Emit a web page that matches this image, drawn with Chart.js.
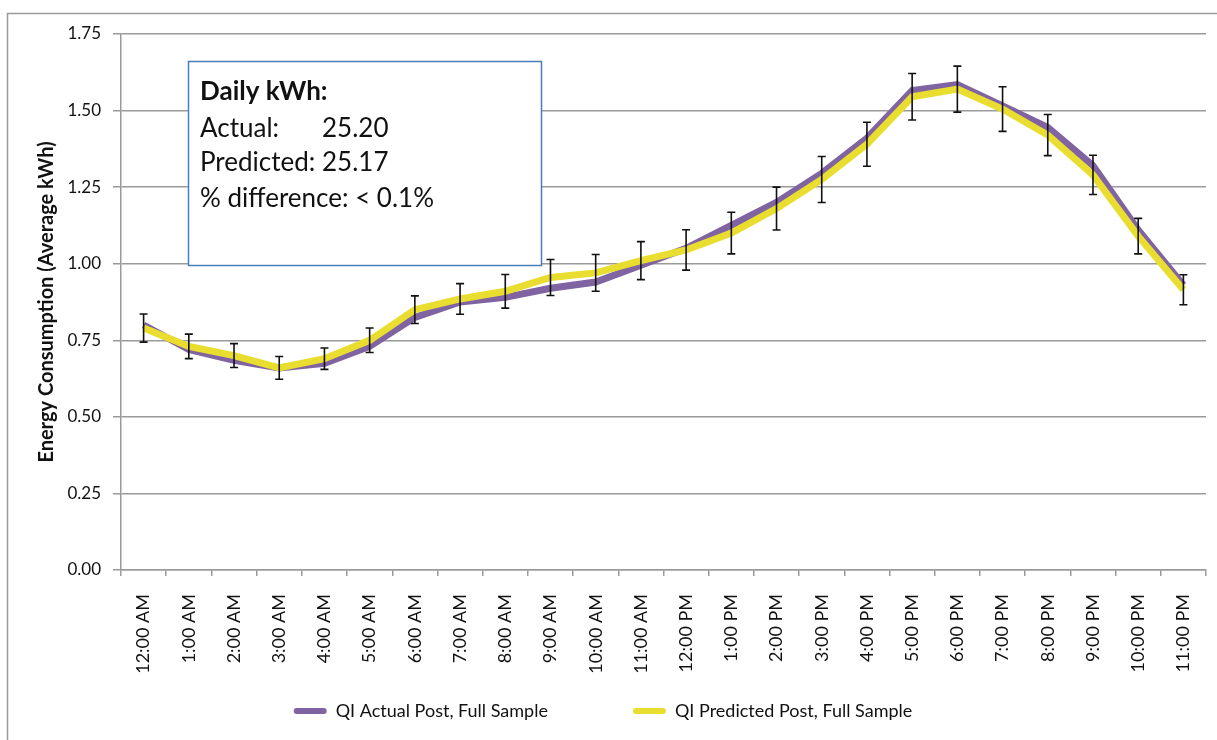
<!DOCTYPE html>
<html>
<head>
<meta charset="utf-8">
<script src="https://cdn.jsdelivr.net/npm/chart.js@4.4.1/dist/chart.umd.min.js"></script>
<style>
  html, body { margin: 0; padding: 0; background: #ffffff; }
  canvas { display: block; }
</style>
</head>
<body>
<canvas id="chart" width="1217" height="740"></canvas>
<script>
// Hour-of-day categories
const hours = [
  '12:00 AM', '1:00 AM', '2:00 AM', '3:00 AM', '4:00 AM', '5:00 AM',
  '6:00 AM', '7:00 AM', '8:00 AM', '9:00 AM', '10:00 AM', '11:00 AM',
  '12:00 PM', '1:00 PM', '2:00 PM', '3:00 PM', '4:00 PM', '5:00 PM',
  '6:00 PM', '7:00 PM', '8:00 PM', '9:00 PM', '10:00 PM', '11:00 PM'
];

// Average hourly kWh, actual post period
const actualKWh = [
  0.80, 0.72, 0.685, 0.66, 0.675, 0.73, 0.825, 0.875, 0.89, 0.92, 0.94, 0.995,
  1.05, 1.125, 1.20, 1.295, 1.41, 1.565, 1.585, 1.515, 1.445, 1.32, 1.11, 0.93
];

// Average hourly kWh, predicted post period
const predictedKWh = [
  0.79, 0.73, 0.70, 0.66, 0.69, 0.75, 0.85, 0.885, 0.91, 0.955, 0.97, 1.01,
  1.045, 1.10, 1.18, 1.275, 1.39, 1.545, 1.57, 1.505, 1.42, 1.29, 1.09, 0.915
];

// Half-width of the error bars on the predicted series
const predictedErr = [
  0.046, 0.040, 0.039, 0.037, 0.035, 0.040, 0.045, 0.050, 0.055, 0.059, 0.060, 0.062,
  0.066, 0.068, 0.070, 0.075, 0.072, 0.076, 0.075, 0.073, 0.067, 0.064, 0.058, 0.049
];

const seriesNames = ['QI Actual Post, Full Sample', 'QI Predicted Post, Full Sample'];

// Daily totals shown in the summary box
const dailyActual = 25.20;
const dailyPredicted = 25.17;
const dailyDiffText = '< 0.1%';

const FONT = 'Lato, "Open Sans", "DejaVu Sans", sans-serif';
const GRID = '#9a9a9a';
const PURPLE = '#8064a2';
const YELLOW = '#e9dd2f';

Chart.defaults.font.family = FONT;
Chart.defaults.color = '#1a1a1a';

// Outer frame of the chart
const framePlugin = {
  id: 'frame',
  beforeDraw(chart) {
    const ctx = chart.ctx;
    ctx.save();
    ctx.fillStyle = '#ffffff';
    ctx.fillRect(0, 0, chart.width, chart.height);
    ctx.strokeStyle = GRID;
    ctx.lineWidth = 1.5;
    ctx.beginPath();
    ctx.moveTo(7.5, chart.height);
    ctx.lineTo(7.5, 13.5);
    ctx.lineTo(chart.width, 13.5);
    ctx.stroke();
    ctx.restore();
  }
};

// Error bars on the predicted series
const errorBarPlugin = {
  id: 'errorBars',
  afterDatasetsDraw(chart) {
    const ctx = chart.ctx;
    const xs = chart.scales.x;
    const ys = chart.scales.y;
    ctx.save();
    ctx.strokeStyle = '#111111';
    ctx.lineWidth = 1.6;
    predictedKWh.forEach((v, i) => {
      const x = xs.getPixelForValue(i);
      const top = ys.getPixelForValue(v + predictedErr[i]);
      const bot = ys.getPixelForValue(v - predictedErr[i]);
      ctx.beginPath();
      ctx.moveTo(x, top); ctx.lineTo(x, bot);
      ctx.moveTo(x - 4, top); ctx.lineTo(x + 4, top);
      ctx.moveTo(x - 4, bot); ctx.lineTo(x + 4, bot);
      ctx.stroke();
    });
    ctx.restore();
  }
};

// Summary text box with the daily totals
const summaryPlugin = {
  id: 'summary',
  afterDraw(chart) {
    const ctx = chart.ctx;
    const bx = 188, by = 61, bw = 353, bh = 204;
    ctx.save();
    ctx.fillStyle = '#ffffff';
    ctx.fillRect(bx, by, bw, bh);
    ctx.strokeStyle = '#4a7ebb';
    ctx.lineWidth = 1.5;
    ctx.strokeRect(bx + 0.5, by + 0.5, bw, bh);
    ctx.fillStyle = '#111111';
    ctx.textBaseline = 'alphabetic';
    ctx.textAlign = 'left';
    ctx.font = 'bold 26px ' + FONT;
    ctx.fillText('Daily kWh:', 200, 100);
    ctx.font = '26px ' + FONT;
    ctx.fillText('Actual:', 200, 136.5);
    ctx.fillText(dailyActual.toFixed(2), 322, 136.5);
    ctx.fillText('Predicted:', 200, 171);
    ctx.fillText(dailyPredicted.toFixed(2), 322, 171);
    ctx.fillText('% difference: ' + dailyDiffText, 200, 206.5);
    ctx.restore();
  }
};

const PLOT_BOTTOM = 570;

new Chart(document.getElementById('chart'), {
  type: 'line',
  data: {
    labels: hours,
    datasets: [
      {
        label: seriesNames[0],
        data: actualKWh,
        borderColor: PURPLE,
        backgroundColor: PURPLE,
        borderWidth: 7,
        pointRadius: 0,
        tension: 0,
        order: 1
      },
      {
        label: seriesNames[1],
        data: predictedKWh,
        borderColor: YELLOW,
        backgroundColor: YELLOW,
        borderWidth: 7,
        pointRadius: 0,
        tension: 0,
        order: 0
      }
    ]
  },
  options: {
    responsive: false,
    animation: false,
    events: [],
    layout: { padding: { top: 34, right: 11, bottom: 10, left: 0 } },
    plugins: {
      tooltip: { enabled: false },
      legend: {
        position: 'bottom',
        labels: {
          font: { size: 18 },
          color: '#111111',
          boxWidth: 33,
          boxHeight: 6,
          padding: 85,
          sort: (a, b) => a.datasetIndex - b.datasetIndex,
          generateLabels(chart) {
            const items = Chart.defaults.plugins.legend.labels.generateLabels(chart);
            items.forEach(it => {
              it.lineWidth = 0;
              it.borderRadius = 3;
              it.fillStyle = chart.data.datasets[it.datasetIndex].borderColor;
            });
            return items;
          }
        }
      }
    },
    scales: {
      x: {
        offset: true,
        grid: {
          display: true,
          drawOnChartArea: false,
          drawTicks: true,
          tickLength: 6,
          offset: true,
          color: GRID,
          lineWidth: 1.5
        },
        border: { display: true, color: GRID, width: 1.5 },
        ticks: {
          autoSkip: false,
          minRotation: 90,
          maxRotation: 90,
          padding: 18,
          font: { size: 18 },
          color: '#111111'
        },
        afterFit(scale) {
          const c = scale.chart;
          const legendH = c.legend ? c.legend.height : 0;
          scale.height = c.height - c.options.layout.padding.bottom - legendH - PLOT_BOTTOM;
          // the end labels fit inside the plot's own margins
          scale.paddingLeft = 0;
          scale.paddingRight = 0;
          // the rotated hour labels run past the (short) axis box into the legend's gap
          scale._computeLabelArea = () => null;
        }
      },
      y: {
        min: 0,
        max: 1.75,
        grid: {
          color: GRID,
          lineWidth: 1.5,
          tickLength: 8,
          drawTicks: true
        },
        border: { display: true, color: GRID, width: 1.5 },
        ticks: {
          stepSize: 0.25,
          padding: 12,
          font: { size: 17 },
          color: '#111111',
          callback: v => Number(v).toFixed(2)
        },
        title: {
          display: true,
          text: 'Energy Consumption (Average kWh)',
          font: { size: 20, weight: 'bold' },
          color: '#111111',
          padding: { top: 35, bottom: 0 }
        },
        afterFit(scale) {
          scale.width = 121;
        }
      }
    }
  },
  plugins: [framePlugin, errorBarPlugin, summaryPlugin]
});
</script>
</body>
</html>
